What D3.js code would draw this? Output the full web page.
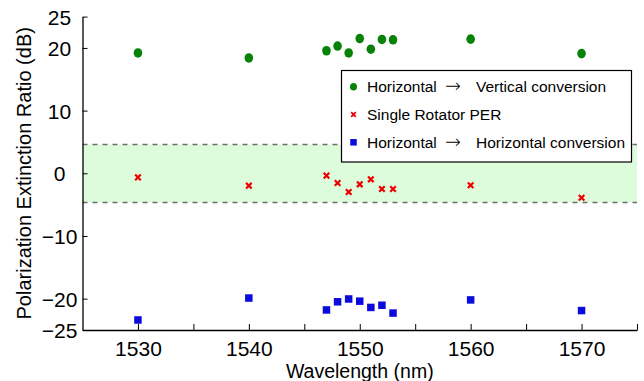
<!DOCTYPE html>
<html><head><meta charset="utf-8">
<script src="https://cdn.jsdelivr.net/npm/d3@7"></script>
<style>
html,body{margin:0;padding:0;background:#fff;}
svg{display:block;font-family:"Liberation Sans",Arial,sans-serif;}
</style></head>
<body><svg id="c" width="644" height="381"></svg>
<script>
const wavelengths = [1530, 1540, 1547, 1548, 1549, 1550, 1551, 1552, 1553, 1560, 1570];
const hToV = [19.2, 18.4, 19.55, 20.3, 19.2, 21.5, 19.8, 21.35, 21.3, 21.4, 19.1];
const singlePER = [-0.65, -1.97, -0.37, -1.55, -2.98, -1.76, -0.96, -2.5, -2.5, -1.9, -3.9];
const hToH = [-23.4, -19.9, -21.8, -20.5, -20.05, -20.4, -21.4, -21.05, -22.3, -20.2, -21.9];
const bandLimits = [-4.6, 4.6];
const xTicksMajor = [1530, 1540, 1550, 1560, 1570];
const xTicksMinor = [1535, 1545, 1555, 1565, 1575];
const yTicks = [-25, -20, -10, 0, 10, 20, 25];
const legendLabels = [
  ["Horizontal", "\u2192", "Vertical conversion"],
  ["Single Rotator PER"],
  ["Horizontal", "\u2192", "Horizontal conversion"]
];

const svg = d3.select("#c");
const x = d3.scaleLinear().domain([1525, 1575]).range([82.5, 637]);
const y = d3.scaleLinear().domain([-25, 25]).range([330, 16.6]);

// band
svg.append("rect").attr("x", x(1525)).attr("width", x(1575) - x(1525))
  .attr("y", y(bandLimits[1])).attr("height", y(bandLimits[0]) - y(bandLimits[1]))
  .attr("fill", "#dcfcdc");
bandLimits.forEach(v => {
  svg.append("line").attr("x1", x(1525)).attr("x2", x(1575))
    .attr("y1", Math.round(y(v)) + 0.5).attr("y2", Math.round(y(v)) + 0.5)
    .attr("stroke", "#6e6e6e").attr("stroke-width", 1.3).attr("stroke-dasharray", "5,5");
});

// axes
const xAxis = d3.axisBottom(x).tickValues(xTicksMajor.concat(xTicksMinor))
  .tickSizeInner(-6).tickSizeOuter(0)
  .tickFormat(d => xTicksMajor.includes(d) ? d3.format("d")(d) : "");
const gx = svg.append("g").attr("transform", "translate(0,330)").call(xAxis);
gx.select(".domain").attr("stroke", "#000").attr("stroke-width", 1.3);
gx.selectAll(".tick line").attr("stroke", "#000");
gx.selectAll(".tick text").attr("font-size", 21).attr("fill", "#000").attr("dy", 0).attr("y", 26);
gx.attr("font-family", null);

const yAxis = d3.axisLeft(y).tickValues(yTicks).tickSizeInner(-5).tickSizeOuter(0)
  .tickFormat(d3.format("d"));
const gy = svg.append("g").attr("transform", "translate(82.5,0)").call(yAxis);
gy.select(".domain").attr("stroke", "#000").attr("stroke-width", 1.3);
gy.selectAll(".tick line").attr("stroke", "#000");
gy.selectAll(".tick text").attr("font-size", 21).attr("fill", "#000")
  .attr("text-anchor", "middle").attr("x", -23).attr("dy", "0.36em");
gy.attr("font-family", null);

// axis labels
svg.append("text").attr("x", x(1550)).attr("y", 378).attr("text-anchor", "middle")
  .attr("font-size", 19.5).text("Wavelength (nm)");
svg.append("text").attr("transform", `translate(31,${y(0)}) rotate(-90)`)
  .attr("text-anchor", "middle").attr("font-size", 20).text("Polarization Extinction Ratio (dB)");

// markers
const green = "#068306", red = "#ee0000", blue = "#0b0bdb";
const drawCircle = (g, cx, cy, rx, ry) => g.append("ellipse").attr("cx", cx).attr("cy", cy).attr("rx", rx).attr("ry", ry).attr("fill", green);
const drawX = (g, cx, cy, s, w) => g.append("path")
  .attr("d", `M${cx - s},${cy - s}L${cx + s},${cy + s}M${cx - s},${cy + s}L${cx + s},${cy - s}`)
  .attr("stroke", red).attr("stroke-width", w).attr("fill", "none");
const drawSq = (g, cx, cy, s) => g.append("rect").attr("x", cx - s / 2).attr("y", cy - s / 2).attr("width", s).attr("height", s).attr("fill", blue);

const pts = svg.append("g");
wavelengths.forEach((w, i) => {
  drawCircle(pts, x(w), y(hToV[i]), 4.3, 4.8);
  drawX(pts, x(w), y(singlePER[i]), 2.8, 2.2);
  drawSq(pts, x(w), y(hToH[i]), 7.5);
});

// legend
const lg = svg.append("g");
lg.append("rect").attr("x", 341.5).attr("y", 70.5).attr("width", 290).attr("height", 91.5)
  .attr("fill", "#fff").attr("stroke", "#000").attr("stroke-width", 1.2);
const rowY = [86.7, 114.5, 142.3];
drawCircle(lg, 353.5, rowY[0], 3.5, 3.8);
drawX(lg, 353.5, rowY[1], 2.3, 1.8);
drawSq(lg, 353.5, rowY[2], 6.5);
legendLabels.forEach((parts, i) => {
  const t = lg.append("text").attr("y", rowY[i]).attr("dy", "0.36em").attr("font-size", 15.5).attr("fill", "#000");
  const xs = [367, 445, 476];
  parts.forEach((p, j) => {
    const ts = t.append("tspan").attr("x", xs[j]).text(p);
    if (p === "\u2192") ts.attr("font-family", "DejaVu Sans").attr("font-size", 19).attr("font-weight", 200);
  });
});
</script></body></html>
